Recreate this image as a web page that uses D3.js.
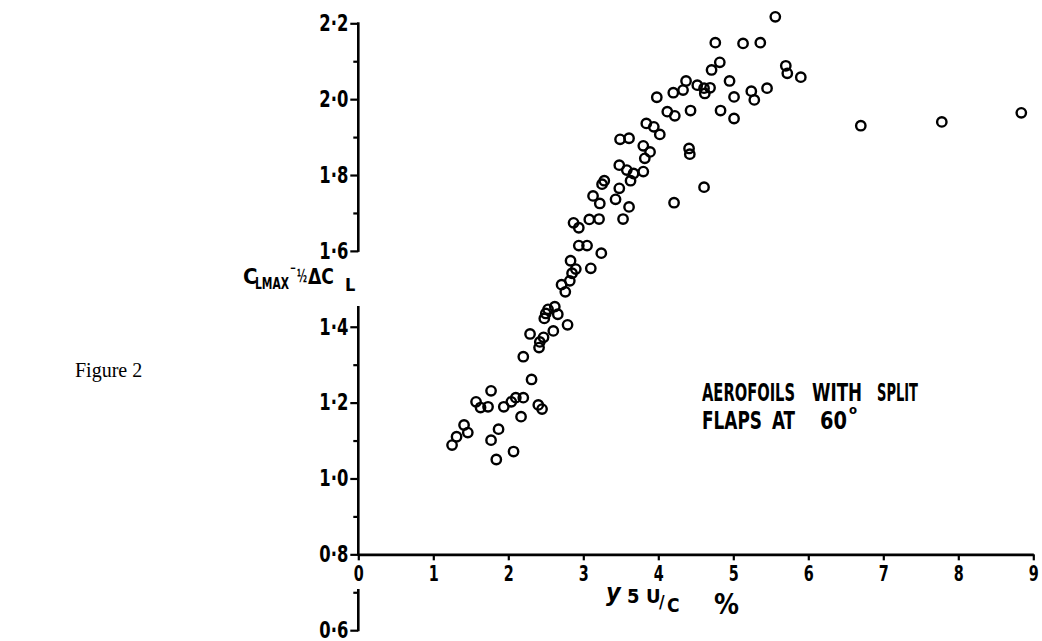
<!DOCTYPE html>
<html>
<head>
<meta charset="utf-8">
<script src="https://cdn.jsdelivr.net/npm/d3@7"></script>
<style>
  html, body { margin: 0; padding: 0; background: #fff; }
  svg { display: block; }
  .hand { font-family: "DejaVu Sans Condensed", "Liberation Sans Narrow", "Liberation Sans", sans-serif; font-weight: bold; fill: #000; }
  .serif { font-family: "Liberation Serif", "DejaVu Serif", serif; fill: #000; }
</style>
</head>
<body>
<svg id="chart" width="1042" height="641"></svg>
<script>
// Axis ticks
const xTickValues = [0, 1, 2, 3, 4, 5, 6, 7, 8, 9];
const yMajorTicks = [0.6, 0.8, 1.0, 1.2, 1.4, 1.6, 1.8, 2.0, 2.2];
const yMinorTicks = [0.7, 0.9, 1.1, 1.3, 1.7, 1.9, 2.1];
// pieces of the vertical axis (gaps leave room for the axis title and the "0")
const yAxisPieces = [[2.2, 1.6], [1.452, 0.8], [0.706, 0.6]];

// Boundary-layer thickness parameter y5 U/c (%)
const thickness = [
  2.29, 2.47, 2.42, 2.41, 2.60, 2.20, 2.31, 1.77, 1.57, 1.63,
  1.73, 1.94, 2.04, 2.10, 2.20, 2.40, 2.45, 2.17, 1.41, 1.46,
  1.31, 1.25, 1.87, 1.77, 2.07, 1.84,
  2.79, 2.66, 2.62, 2.53, 2.50, 2.48, 2.76, 2.71, 2.82, 2.85,
  2.90, 2.83, 3.10, 3.24, 2.94, 3.05, 2.87, 2.94, 3.08, 3.21,
  3.53, 3.61, 3.22, 3.13, 3.43, 3.48, 3.25, 3.28, 3.63, 3.48,
  3.58, 3.67, 3.80, 3.82, 3.89,
  5.56, 4.76, 5.13, 5.36, 4.82, 4.71, 5.70, 5.72, 5.90, 4.37,
  4.52, 4.61, 4.69, 4.62, 4.95, 4.33, 4.20, 3.98, 5.01, 5.24,
  5.28, 5.45, 4.12, 4.22, 4.43, 4.83, 5.01, 3.84, 3.94, 4.02,
  3.49, 3.61, 3.80, 4.41, 4.42, 4.61, 4.21,
  6.70, 7.78, 8.84
];
// CLmax - 1/2 dCL for each aerofoil
const liftMax = [
  1.381, 1.372, 1.360, 1.345, 1.389, 1.321, 1.261, 1.231, 1.202, 1.187,
  1.189, 1.189, 1.202, 1.213, 1.213, 1.194, 1.183, 1.163, 1.141, 1.121,
  1.110, 1.088, 1.130, 1.101, 1.071, 1.050,
  1.405, 1.433, 1.453, 1.446, 1.435, 1.422, 1.492, 1.511, 1.521, 1.541,
  1.552, 1.574, 1.554, 1.594, 1.614, 1.614, 1.674, 1.661, 1.683, 1.684,
  1.684, 1.716, 1.725, 1.745, 1.736, 1.765, 1.776, 1.785, 1.785, 1.826,
  1.813, 1.804, 1.809, 1.844, 1.861,
  2.217, 2.149, 2.147, 2.149, 2.097, 2.077, 2.088, 2.068, 2.058, 2.048,
  2.037, 2.029, 2.030, 2.015, 2.048, 2.024, 2.017, 2.005, 2.006, 2.021,
  1.998, 2.029, 1.967, 1.956, 1.970, 1.970, 1.949, 1.936, 1.927, 1.907,
  1.894, 1.897, 1.877, 1.870, 1.855, 1.768, 1.727,
  1.930, 1.940, 1.964
];

const points = thickness.map((v, i) => ({ x: v, y: liftMax[i] }));

const svg = d3.select("#chart");
const x = d3.scaleLinear().domain([0, 9]).range([358.3, 1033.3]);
const y = d3.scaleLinear().domain([0.6, 2.2]).range([630.2, 23.3]);
const axisY = y(0.8);
const ink = "#000";
const fmt = d => d3.format(".1f")(d).replace(".", "\u00b7");

// horizontal axis
const gx = svg.append("g")
  .attr("transform", `translate(0,${axisY})`)
  .call(d3.axisBottom(x).tickValues(xTickValues).tickSize(6).tickSizeOuter(0)
    .tickPadding(5).tickFormat(d3.format("d")));
gx.attr("font-family", null).attr("font-size", null);
gx.select(".domain").attr("stroke", ink).attr("stroke-width", 2.6);
gx.selectAll(".tick line").attr("stroke", ink).attr("stroke-width", 2.2);
gx.selectAll(".tick text")
  .attr("class", "hand").attr("font-size", 22).attr("fill", ink)
  .attr("textLength", 10).attr("lengthAdjust", "spacingAndGlyphs");

// vertical axis: major ticks with labels, minor ticks without
const gy = svg.append("g")
  .attr("transform", `translate(${x(0)},0)`)
  .call(d3.axisLeft(y).tickValues(yMajorTicks).tickSize(8).tickPadding(2).tickFormat(fmt));
gy.attr("font-family", null).attr("font-size", null);
gy.select(".domain").remove();
gy.selectAll(".tick line").attr("stroke", ink).attr("stroke-width", 2.2);
gy.selectAll(".tick text")
  .attr("class", "hand").attr("font-size", 23).attr("fill", ink)
  .attr("dy", "0.32em")
  .attr("textLength", 29).attr("lengthAdjust", "spacingAndGlyphs");

const gyMinor = svg.append("g")
  .attr("transform", `translate(${x(0)},0)`)
  .call(d3.axisLeft(y).tickValues(yMinorTicks).tickSize(5).tickFormat(""));
gyMinor.select(".domain").remove();
gyMinor.selectAll(".tick line").attr("stroke", ink).attr("stroke-width", 2.2);

svg.append("g").selectAll("line")
  .data(yAxisPieces)
  .join("line")
  .attr("x1", x(0)).attr("x2", x(0))
  .attr("y1", d => y(d[0]) - 1).attr("y2", d => y(d[1]) + 1)
  .attr("stroke", ink).attr("stroke-width", 2.6);

// data points
svg.append("g").selectAll("circle")
  .data(points)
  .join("circle")
  .attr("cx", d => x(d.x))
  .attr("cy", d => y(d.y))
  .attr("r", 4.7)
  .attr("fill", "none")
  .attr("stroke", ink)
  .attr("stroke-width", 2.4);

// vertical axis title: C_LMAX - 1/2 ΔC_L
const yt = svg.append("g").attr("class", "hand");
yt.append("text").attr("x", 243).attr("y", 284).attr("font-size", 22).text("C");
yt.append("text").attr("x", 255).attr("y", 289).attr("font-size", 16)
  .attr("textLength", 34).attr("lengthAdjust", "spacingAndGlyphs").text("LMAX");
yt.append("text").attr("x", 290).attr("y", 272).attr("font-size", 12)
  .attr("textLength", 6).attr("lengthAdjust", "spacingAndGlyphs").text("\u2212");
yt.append("text").attr("x", 297).attr("y", 282).attr("font-size", 17)
  .attr("textLength", 10).attr("lengthAdjust", "spacingAndGlyphs").text("\u00bd");
yt.append("text").attr("x", 308).attr("y", 284).attr("font-size", 21)
  .attr("textLength", 26).attr("lengthAdjust", "spacingAndGlyphs").text("\u0394C");
yt.append("text").attr("x", 345).attr("y", 291).attr("font-size", 18).text("L");

// horizontal axis title: y5 U/c %
const xt = svg.append("g").attr("class", "hand").attr("font-weight", "normal");
xt.append("text").attr("x", 606).attr("y", 601).attr("font-size", 25)
  .attr("font-style", "italic").text("y");
xt.append("text").attr("x", 627).attr("y", 603).attr("font-size", 20).text("5");
xt.append("text").attr("x", 646).attr("y", 603).attr("font-size", 20).text("U");
xt.append("text").attr("x", 659).attr("y", 608).attr("font-size", 17).text("/");
xt.append("text").attr("x", 667).attr("y", 612).attr("font-size", 19).text("C");
xt.append("text").attr("x", 714).attr("y", 614).attr("font-size", 28)
  .attr("textLength", 25).attr("lengthAdjust", "spacingAndGlyphs").text("%");

// annotation, one word at a time
const noteWords = [
  ["AEROFOILS", 702, 401, 93], ["WITH", 812, 401, 50], ["SPLIT", 877, 401, 41],
  ["FLAPS", 702, 429, 60], ["AT", 772, 429, 23], ["60", 820, 429, 27]
];
svg.append("g").attr("class", "hand").selectAll("text")
  .data(noteWords)
  .join("text")
  .attr("x", d => d[1]).attr("y", d => d[2])
  .attr("font-size", 24)
  .attr("textLength", d => d[3]).attr("lengthAdjust", "spacingAndGlyphs")
  .text(d => d[0]);
svg.append("text").attr("class", "hand")
  .attr("x", 849).attr("y", 414).attr("font-size", 13).text("o");

// figure caption
svg.append("text").attr("class", "serif")
  .attr("x", 75).attr("y", 377).attr("font-size", 20).text("Figure 2");
</script>
</body>
</html>
